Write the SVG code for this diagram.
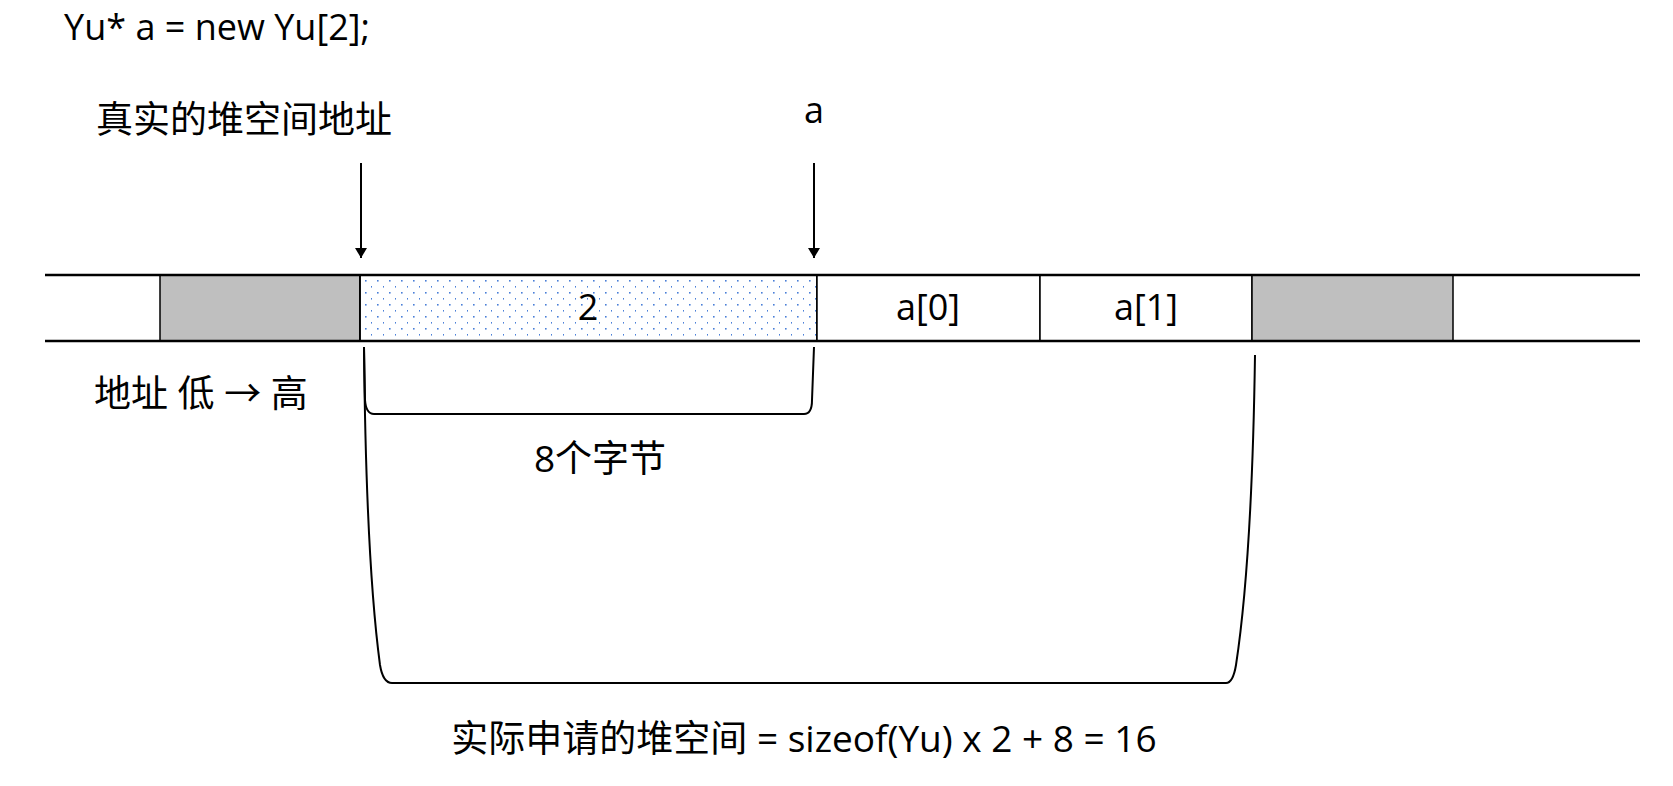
<svg xmlns="http://www.w3.org/2000/svg" width="1673" height="786" viewBox="0 0 1673 786">
<style>
text{font-family:"Open Sans","Noto Sans CJK SC",sans-serif;fill:#000}
.t{font-size:36px}
.c{font-size:37px}
.ln{stroke:#000;stroke-width:2;fill:none}
.cell{stroke:#000;stroke-width:1.5}
</style>
<defs>
<pattern id="dots" width="12" height="12" patternUnits="userSpaceOnUse">
<rect x="5" y="4" width="1.6" height="1.6" fill="#4a7fd8"/>
<rect x="11" y="10" width="1.6" height="1.6" fill="#4a7fd8"/>
</pattern>
<marker id="ah" markerWidth="10" markerHeight="12" refX="10" refY="6" orient="auto" markerUnits="userSpaceOnUse">
<path d="M0,0 L10,6 L0,12 z" fill="#000"/>
</marker>
</defs>
<text class="t" x="64" y="40">Yu* a = new Yu[2];</text>
<text class="c" x="96" y="133">真实的堆空间地址</text>
<text class="t" x="814" y="123" text-anchor="middle">a</text>
<g id="cells">
<rect class="cell" x="160" y="275" width="200" height="66" fill="#bfbfbf"/>
<rect class="cell" x="360" y="275" width="457" height="66" fill="#fff"/>
<rect x="360" y="275" width="457" height="66" fill="url(#dots)"/>
<rect class="cell" x="360" y="275" width="457" height="66" fill="none"/>
<rect class="cell" x="817" y="275" width="223" height="66" fill="#fff"/>
<rect class="cell" x="1040" y="275" width="212" height="66" fill="#fff"/>
<rect class="cell" x="1252" y="275" width="201" height="66" fill="#bfbfbf"/>
<line x1="45" y1="275" x2="1640" y2="275" stroke="#000" stroke-width="2.5"/>
<line x1="45" y1="341" x2="1640" y2="341" stroke="#000" stroke-width="2.5"/>
<text class="t" x="588" y="320" text-anchor="middle">2</text>
<text class="t" x="928" y="320" text-anchor="middle">a[0]</text>
<text class="t" x="1146" y="320" text-anchor="middle">a[1]</text>
</g>
<g id="connectors">
<line class="ln" x1="361" y1="163" x2="361" y2="258" marker-end="url(#ah)"/>
<line class="ln" x1="814" y1="163" x2="814" y2="258" marker-end="url(#ah)"/>
<path class="ln" d="M364,347 L365,400 Q366,414 374,414 L804,414 Q812,414 812,400 L814,347"/>
<path class="ln" d="M364,347 Q366,560 380,665 Q383,683 392,683 L1226,683 Q1233,683 1236,665 Q1252,560 1255,355"/>
</g>
<text class="c" x="94" y="407">地址 低 → 高</text>
<text class="c" x="600" y="472" text-anchor="middle">8个字节</text>
<text class="c" x="804" y="752" text-anchor="middle">实际申请的堆空间 = sizeof(Yu) x 2 + 8 = 16</text>
</svg>
